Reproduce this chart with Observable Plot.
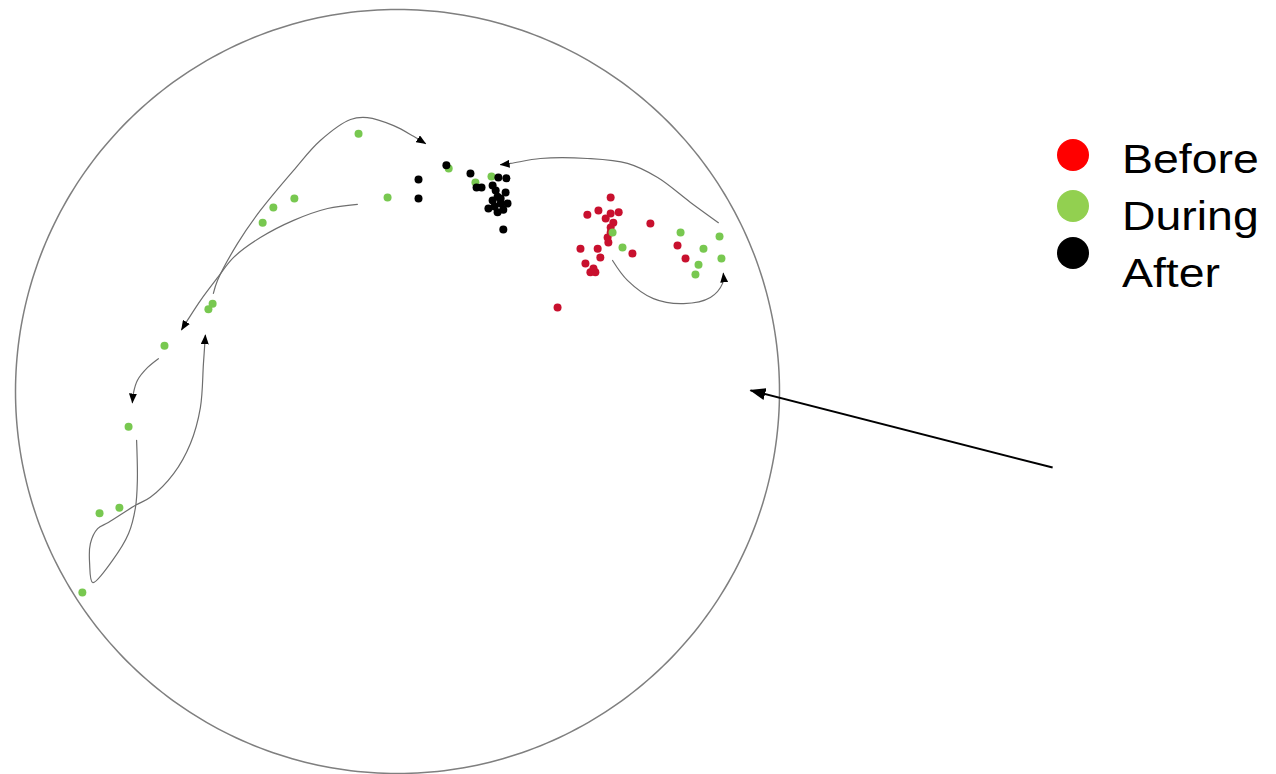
<!DOCTYPE html>
<html>
<head>
<meta charset="utf-8">
<script src="https://cdn.jsdelivr.net/npm/d3@7"></script>
<script src="https://cdn.jsdelivr.net/npm/@observablehq/plot@0.6"></script>
<style>
  html, body { margin: 0; padding: 0; background: #fff; overflow: hidden; }
  #wrap { position: relative; width: 1276px; height: 774px; }
  #legend { position: absolute; left: 0; top: 0; width: 1276px; height: 774px; pointer-events: none;
            font-family: "Liberation Sans", Arial, sans-serif; color: #000; }
  .sw { position: absolute; width: 32px; height: 32px; border-radius: 50%; }
  .lab { position: absolute; font-size: 40px; line-height: 40px; white-space: nowrap;
         transform: scaleX(1.16); transform-origin: 0 0; }
</style>
</head>
<body>
<div id="wrap"><div id="legend"></div></div>
<script>
// ---- data (unit-circle coordinates) ----
const phases = ["Before", "During", "After"];
const phaseColors = ["#c8102e", "#78c850", "#000000"];
const legendColors = ["#ff0000", "#92d050", "#000000"];

const beforePts = [
  [0.558, 0.508], [0.497, 0.463], [0.526, 0.474], [0.558, 0.466], [0.579, 0.469],
  [0.545, 0.453], [0.565, 0.442], [0.558, 0.429], [0.558, 0.416], [0.552, 0.390],
  [0.662, 0.440], [0.479, 0.374], [0.524, 0.374], [0.531, 0.351], [0.492, 0.335],
  [0.505, 0.312], [0.518, 0.312], [0.615, 0.361], [0.733, 0.382], [0.754, 0.348],
  [0.419, 0.220], [0.550, 0.403], [0.513, 0.322]
];
const duringPts = [
  [-0.102, 0.675], [-0.026, 0.508], [-0.270, 0.505], [-0.325, 0.482], [-0.353, 0.442],
  [-0.484, 0.230], [-0.495, 0.215], [-0.610, 0.120], [-0.704, -0.092], [-0.728, -0.304],
  [-0.780, -0.319], [-0.825, -0.526], [0.134, 0.584], [0.204, 0.547], [0.246, 0.563],
  [0.563, 0.416], [0.589, 0.377], [0.741, 0.416], [0.801, 0.374], [0.788, 0.332],
  [0.780, 0.306], [0.843, 0.406], [0.848, 0.348]
];
const afterPts = [
  [0.128, 0.592], [0.055, 0.555], [0.055, 0.505], [0.191, 0.571], [0.207, 0.534],
  [0.220, 0.534], [0.264, 0.560], [0.285, 0.558], [0.257, 0.526], [0.283, 0.521],
  [0.262, 0.510], [0.249, 0.500], [0.270, 0.492], [0.288, 0.492], [0.238, 0.479],
  [0.262, 0.469], [0.277, 0.476], [0.277, 0.424], [0.254, 0.484], [0.270, 0.505],
  [0.249, 0.539]
];

// trajectory paths (each ends with an arrowhead)
const pathA = [[0.840,0.442],[0.767,0.495],[0.681,0.560],[0.602,0.597],[0.497,0.610],[0.374,0.610],[0.296,0.597],[0.270,0.594]];
const pathB = [[0.563,0.343],[0.602,0.291],[0.670,0.243],[0.749,0.230],[0.819,0.246],[0.851,0.283],[0.853,0.309]];
const pathC1 = [[-0.482,0.257],[-0.471,0.291],[-0.419,0.387],[-0.359,0.474],[-0.272,0.579],[-0.202,0.657],[-0.123,0.712],[-0.079,0.717],[-0.010,0.696],[0.042,0.668],[0.073,0.649]];
const pathC2 = [[-0.105,0.490],[-0.183,0.479],[-0.272,0.448],[-0.359,0.403],[-0.429,0.351],[-0.471,0.298],[-0.516,0.238],[-0.550,0.186],[-0.565,0.162]];
const pathD = [[-0.626,0.086],[-0.654,0.063],[-0.681,0.029],[-0.691,-0.003],[-0.694,-0.029]];
const pathE = [[-0.683,-0.128],[-0.681,-0.233],[-0.686,-0.304],[-0.704,-0.372],[-0.746,-0.442],[-0.798,-0.500],[-0.806,-0.450],[-0.804,-0.398],[-0.785,-0.359],[-0.757,-0.343],[-0.686,-0.298],[-0.647,-0.277],[-0.586,-0.215],[-0.542,-0.136],[-0.516,-0.042],[-0.508,0.073],[-0.503,0.147]];

// pointer arrow from outside toward the circle
const pointer = [{x1: 1.715, y1: -0.199, x2: 0.924, y2: 0.003}];

// ---- build tables ----
const trajRows = [];
[pathA, pathB, pathC1, pathC2, pathD, pathE].forEach((p, i) =>
  p.forEach(([x, y]) => trajRows.push({id: "p" + i, x, y})));
const circleRows = d3.range(0, 361, 1).map(a => ({x: Math.cos(a * Math.PI / 180), y: Math.sin(a * Math.PI / 180)}));

const TRAJ = "#6e6e6e";
const PTR = "#000001";

const chart = Plot.plot({
  width: 1276,
  height: 774,
  marginLeft: 15, marginRight: 497, marginTop: 9, marginBottom: 1,
  x: {domain: [-1, 1], axis: null},
  y: {domain: [-1, 1], axis: null},
  style: {background: "white", overflow: "visible"},
  marks: [
    Plot.line(circleRows, {x: "x", y: "y", stroke: "#7f7f7f", strokeWidth: 1.5}),
    Plot.line(trajRows, {x: "x", y: "y", z: "id", curve: "catmull-rom", stroke: TRAJ, strokeWidth: 1.2}),
    Plot.dot(beforePts, {x: d => d[0], y: d => d[1], r: 4, fill: phaseColors[0]}),
    Plot.dot(duringPts, {x: d => d[0], y: d => d[1], r: 4, fill: phaseColors[1]}),
    Plot.dot(afterPts, {x: d => d[0], y: d => d[1], r: 4, fill: phaseColors[2]}),
    Plot.link(pointer, {x1: "x1", y1: "y1", x2: "x2", y2: "y2", stroke: PTR, strokeWidth: 2})
  ]
});

// filled triangular arrowheads
const svg = d3.select(chart);
const defs = svg.append("defs");
defs.append("marker").attr("id", "triS").attr("viewBox", "0 0 10 8")
  .attr("refX", 9).attr("refY", 4).attr("markerWidth", 10).attr("markerHeight", 8)
  .attr("markerUnits", "userSpaceOnUse").attr("orient", "auto")
  .append("path").attr("d", "M0,0L10,4L0,8Z").attr("fill", "black").attr("stroke", "none");
defs.append("marker").attr("id", "triL").attr("viewBox", "0 0 16 12")
  .attr("refX", 15).attr("refY", 6).attr("markerWidth", 16).attr("markerHeight", 12)
  .attr("markerUnits", "userSpaceOnUse").attr("orient", "auto")
  .append("path").attr("d", "M0,0L16,6L0,12Z").attr("fill", "black").attr("stroke", "none");
svg.selectAll("path").each(function () {
  let el = this, s = null;
  while (el && el !== chart) { s = el.getAttribute && el.getAttribute("stroke"); if (s) break; el = el.parentNode; }
  if (s === TRAJ) this.setAttribute("marker-end", "url(#triS)");
  if (s === PTR) this.setAttribute("marker-end", "url(#triL)");
});

const wrap = document.getElementById("wrap");
wrap.insertBefore(chart, wrap.firstChild);

// legend
const legend = document.getElementById("legend");
const swatchCY = [155, 206, 253];
const baselines = [173, 230, 287];
phases.forEach((name, i) => {
  const sw = document.createElement("div");
  sw.className = "sw";
  sw.style.left = (1073 - 16) + "px";
  sw.style.top = (swatchCY[i] - 16) + "px";
  sw.style.background = legendColors[i];
  legend.appendChild(sw);
  const lab = document.createElement("div");
  lab.className = "lab";
  lab.textContent = name;
  lab.style.left = "1122px";
  lab.style.top = (baselines[i] - 34) + "px";
  legend.appendChild(lab);
});
</script>
</body>
</html>
